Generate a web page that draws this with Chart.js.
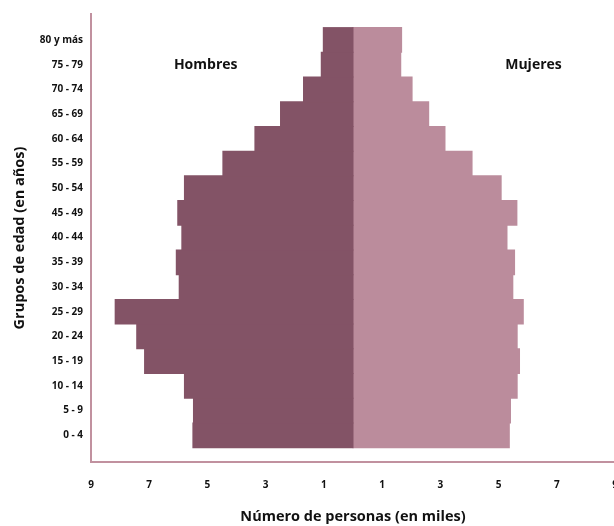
<!DOCTYPE html>
<html lang="es">
<head>
<meta charset="utf-8">
<title>Pirámide de población</title>
<script src="https://cdn.jsdelivr.net/npm/chart.js@4"></script>
<style>
  html, body { margin: 0; padding: 0; background: #fff; overflow: hidden; }
  #wrap { width: 614px; height: 526px; overflow: hidden; }
</style>
</head>
<body>
<div id="wrap"><canvas id="pyramid" width="640" height="526"></canvas></div>
<script>
// age groups, bottom to top
const ageGroups = ['0 - 4', '5 - 9', '10 - 14', '15 - 19', '20 - 24', '25 - 29', '30 - 34', '35 - 39',
    '40 - 44', '45 - 49', '50 - 54', '55 - 59', '60 - 64', '65 - 69', '70 - 74', '75 - 79', '80 y más'];
// thousands of people, same order
const hombres = [5.50, 5.48, 5.79, 7.16, 7.43, 8.17, 5.97, 6.07, 5.88, 6.02, 5.79, 4.47, 3.37, 2.49, 1.70, 1.09, 1.02];
const mujeres = [5.37, 5.41, 5.64, 5.72, 5.64, 5.85, 5.49, 5.55, 5.29, 5.63, 5.09, 4.09, 3.16, 2.60, 2.03, 1.64, 1.67];
const xTicks = [-9, -7, -5, -3, -1, 1, 3, 5, 7, 9];

const MEN = '#835366', WOMEN = '#bb8c9c', FRAME = '#c1919f';
const FONT = '"Open Sans", "DejaVu Sans", sans-serif';

// "Hombres" / "Mujeres" labels inside the plot
const sideLabels = {
    id: 'sideLabels',
    afterDatasetsDraw(chart) {
        const { ctx, scales: { x, y } } = chart;
        const spots = [[-5.06, 15], [6.2, 15]];
        ctx.save();
        ctx.font = 'bold 14px ' + FONT;
        ctx.fillStyle = '#111';
        ctx.textAlign = 'center';
        ctx.textBaseline = 'middle';
        chart.data.datasets.forEach((ds, i) => {
            ctx.fillText(ds.label, x.getPixelForValue(spots[i][0]), y.getPixelForValue(spots[i][1]));
        });
        ctx.restore();
    }
};

new Chart(document.getElementById('pyramid'), {
    type: 'bar',
    data: {
        datasets: [
            { label: 'Hombres', data: hombres.map((v, i) => ({ x: -v, y: i })), backgroundColor: MEN },
            { label: 'Mujeres', data: mujeres.map((v, i) => ({ x: v, y: i })), backgroundColor: WOMEN }
        ]
    },
    options: {
        indexAxis: 'y',
        responsive: false,
        animation: false,
        layout: { padding: { top: 13, right: 25, bottom: 0, left: 0 } },
        datasets: { bar: { barPercentage: 1, categoryPercentage: 1, borderWidth: 0, inflateAmount: 0.5 } },
        plugins: { legend: { display: false }, tooltip: { enabled: false } },
        scales: {
            x: {
                type: 'linear', stacked: true, min: -9, max: 9,
                afterBuildTicks: s => { s.ticks = xTicks.map(v => ({ value: v })); },
                afterFit: s => { s.height = 64; },
                grid: { display: false, drawTicks: false },
                border: { display: true, color: FRAME, width: 2 },
                ticks: { padding: 17, color: '#111', font: { family: FONT, size: 10, weight: 'bold' }, callback: v => Math.abs(v) },
                title: { display: true, text: 'Número de personas (en miles)', color: '#111',
                    font: { family: FONT, size: 14.5, weight: 'bold' }, padding: { top: 0, bottom: 0 } }
            },
            y: {
                type: 'linear', stacked: true, offset: false, min: -1.08, max: 17.05,
                afterFit: s => { s.width = 91; },
                grid: { display: false, drawTicks: false, offset: false },
                border: { display: true, color: FRAME, width: 2 },
                ticks: { stepSize: 1, includeBounds: false, autoSkip: false, padding: 8, color: '#111',
                    font: { family: FONT, size: 10, weight: 'bold' },
                    callback: v => ageGroups[v] || '' },
                title: { display: true, text: 'Grupos de edad (en años)', color: '#111',
                    font: { family: FONT, size: 14.5, weight: 'bold' }, padding: { top: 11, bottom: 0 } }
            }
        }
    },
    plugins: [sideLabels]
});
</script>
</body>
</html>
